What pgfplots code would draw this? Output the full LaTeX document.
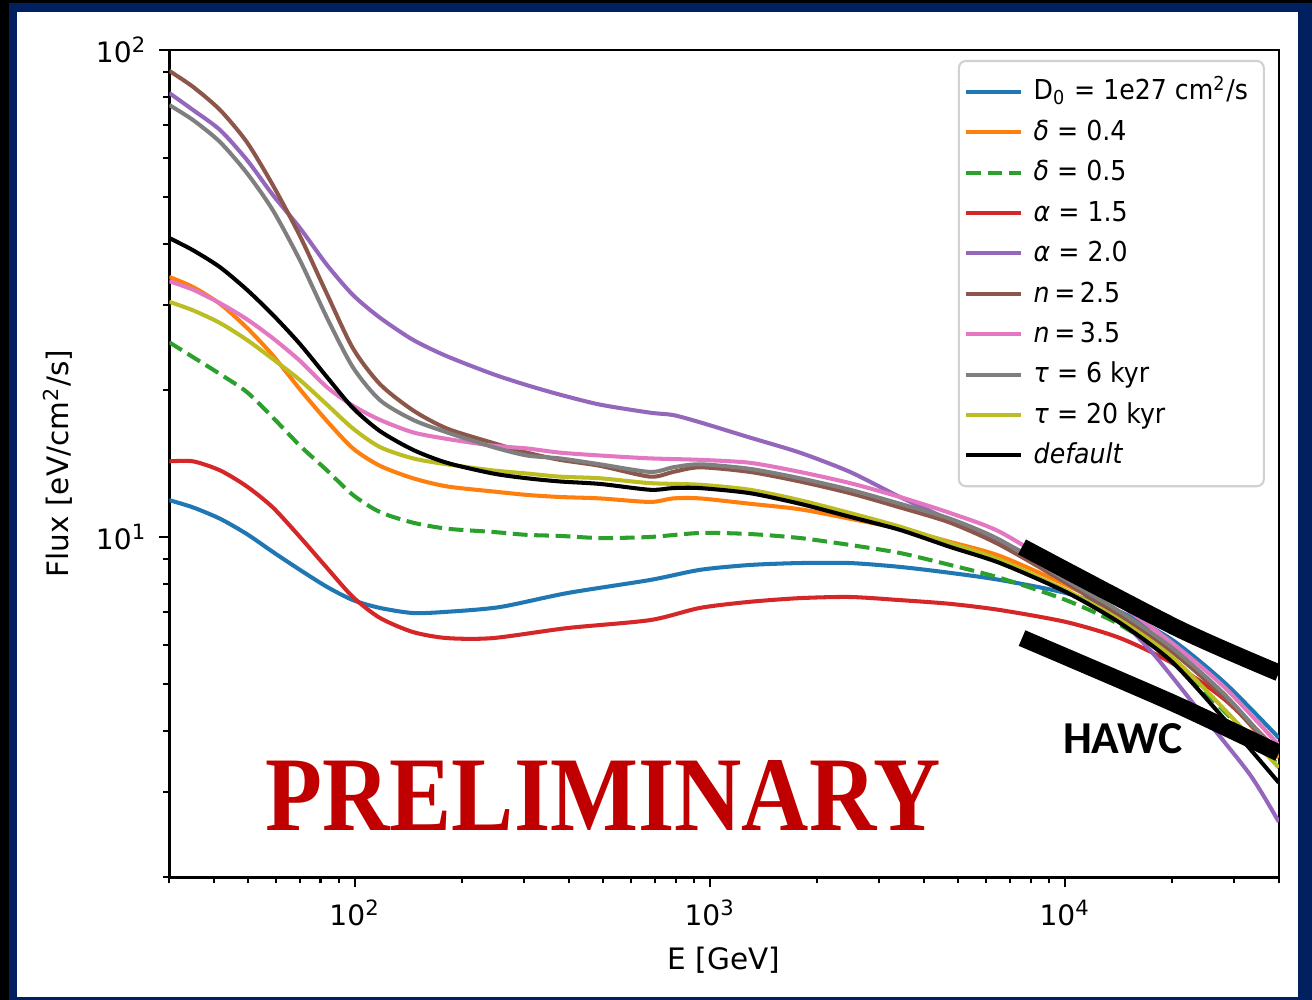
\documentclass[border=0pt]{standalone}
\usepackage{fontspec}
\setmainfont{DejaVu Sans}
\newfontfamily\legfont{DejaVu Sans}[FakeStretch=0.92]
\newfontfamily\prelimfont{Liberation Serif}
\newfontfamily\hawcfont{Carlito}
\usepackage{graphicx}
\usepackage{pgfplots}
\pgfplotsset{compat=1.18}

\definecolor{navyframe}{HTML}{002060}
\definecolor{prelimred}{HTML}{C00000}
\definecolor{tabblue}{HTML}{1F77B4}
\definecolor{taborange}{HTML}{FF7F0E}
\definecolor{tabgreen}{HTML}{2CA02C}
\definecolor{tabred}{HTML}{D62728}
\definecolor{tabpurple}{HTML}{9467BD}
\definecolor{tabbrown}{HTML}{8C564B}
\definecolor{tabpink}{HTML}{E377C2}
\definecolor{tabgray}{HTML}{7F7F7F}
\definecolor{tabolive}{HTML}{BCBD22}

\begin{document}
\begin{tikzpicture}[x=1cm,y=1cm]
% frame
\fill[black] (0,0) rectangle (13.12,10);
\fill[navyframe] (0.09,0) rectangle (13.12,9.97);
\fill[white] (0.17,0.03) rectangle (12.98,9.88);

\begin{axis}[
  at={(1.693cm,1.226cm)}, anchor=south west,
  scale only axis, width=11.095cm, height=8.274cm,
  xmode=log, ymode=log,
  xmin=30, xmax=40000, ymin=2, ymax=100,
  xtick={100,1000,10000},
  xticklabels={10\textsuperscript{2},10\textsuperscript{3},10\textsuperscript{4}},
  minor xtick={30,40,50,60,70,80,90,200,300,400,500,600,700,800,900,2000,3000,4000,5000,6000,7000,8000,9000,20000,30000,40000},
  ytick={10,100},
  yticklabels={10\textsuperscript{1},10\textsuperscript{2}},
  minor ytick={2,3,4,5,6,7,8,9,20,30,40,50,60,70,80,90},
  tick pos=left, tick align=outside,
  major tick length=1mm, minor tick length=0.6mm,
  every tick/.style={black, line width=0.6pt},
  axis line style={line width=0.7pt},
  ticklabel style={font=\fontsize{8}{9}\selectfont},
  xlabel={E [GeV]}, ylabel={Flux [eV/cm\textsuperscript{2}/s]},
  label style={font=\fontsize{8.4}{10}\selectfont},
  xlabel style={at={(axis description cs:0.5,-0.0998)}, anchor=center},
  ylabel style={at={(axis description cs:-0.1005,0.5)}, anchor=center},
  no marks,
  every axis plot/.append style={line width=1.15pt, line join=round, smooth, tension=0.45},
  legend cell align=left,
  legend image code/.code={\draw[#1, smooth=false] (0mm,0mm) -- (5.5mm,0mm);},
  legend style={at={(0.9875,0.988)}, anchor=north east,
    draw=black!18, line width=0.6pt, rounded corners=2pt, fill=white,
    font=\legfont\fontsize{7.8}{9}\selectfont, inner xsep=1.5pt, inner ysep=3pt,
    nodes={inner xsep=3pt, inner ysep=1.1pt, text height=7pt, text depth=2.3pt}},
]
% D0 = 1e27
\addplot[tabblue] coordinates {(30,11.9) (35,11.5) (41.7,10.9) (49.6,10.14) (58.7,9.32) (70,8.56) (83.4,7.90) (98.7,7.42) (117.6,7.15) (145.7,6.98) (181.6,7.02) (256,7.18) (396,7.67) (678,8.16) (937,8.56) (1296,8.76) (1792,8.84) (2480,8.84) (3429,8.68) (4745,8.44) (6560,8.16) (10065,7.67) (14290,7.02) (20020,6.15) (28230,5.01) (40000,3.87)};
\addlegendentry{D\textsubscript{0} = 1e27 cm\textsuperscript{2}/s}
% delta = 0.4
\addplot[taborange] coordinates {(30,34.2) (35,32.6) (41.7,30.1) (49.6,26.9) (58.7,23.6) (70,20.1) (83.4,17.3) (98.7,15.2) (117.6,14.0) (145.7,13.2) (181.6,12.7) (244.7,12.4) (305,12.2) (378,12.08) (490,12.0) (678,11.8) (787,12.0) (937,12.0) (1296,11.7) (1792,11.4) (2480,10.9) (3429,10.4) (4745,9.77) (6560,9.14) (10065,7.97) (14290,6.98) (20020,5.92) (28230,4.69) (40000,3.52)};
\addlegendentry{\textit{δ} = 0.4}
% delta = 0.5
\addplot[tabgreen, dash pattern=on 4.2pt off 1.9pt] coordinates {(30,25.1) (35,23.4) (41.7,21.6) (49.6,19.85) (58.7,17.6) (70,15.4) (83.4,13.7) (98.7,12.2) (117.6,11.25) (145.7,10.7) (181.6,10.4) (244.7,10.24) (305,10.1) (378,10.05) (490,9.95) (678,10.0) (937,10.19) (1296,10.14) (1792,9.95) (2480,9.63) (3429,9.27) (4745,8.76) (6560,8.24) (10065,7.42) (14290,6.60) (20020,5.59) (28230,4.37) (40000,3.40)};
\addlegendentry{\textit{δ} = 0.5}
% alpha = 1.5
\addplot[tabred] coordinates {(30,14.3) (35,14.3) (41.7,13.7) (49.6,12.7) (58.7,11.5) (70,10.0) (83.4,8.64) (98.7,7.53) (117.6,6.82) (145.7,6.38) (181.6,6.20) (244.7,6.20) (396,6.50) (678,6.75) (937,7.15) (1296,7.36) (1792,7.49) (2480,7.53) (3429,7.42) (4745,7.29) (6560,7.08) (10065,6.69) (14290,6.20) (20020,5.51) (28230,4.63) (40000,3.62)};
\addlegendentry{\textit{α} = 1.5}
% alpha = 2.0
\addplot[tabpurple] coordinates {(30,81.6) (35,75.3) (41.7,68.5) (49.6,59.5) (58.7,50.4) (70,43.1) (83.4,36.2) (98.7,31.4) (117.6,28.2) (145.7,25.4) (181.6,23.5) (244.7,21.6) (305,20.5) (378,19.6) (490,18.7) (678,18.0) (787,17.8) (937,17.2) (1296,16.0) (1792,14.9) (2480,13.6) (3429,12.08) (4745,10.84) (6560,9.81) (9073,8.68) (12550,7.42) (17350,5.86) (24010,4.37) (33200,3.25) (40000,2.60)};
\addlegendentry{\textit{α} = 2.0}
% n = 2.5
\addplot[tabbrown] coordinates {(30,90.6) (35,84.0) (41.7,75.3) (49.6,64.7) (58.7,52.8) (70,41.5) (83.4,31.55) (98.7,24.4) (117.6,20.6) (145.7,18.2) (181.6,16.7) (244.7,15.6) (305,14.9) (378,14.4) (490,14.0) (678,13.3) (787,13.6) (937,13.9) (1296,13.6) (1792,13.0) (2480,12.3) (3429,11.5) (4745,10.7) (6560,9.63) (10065,8.05) (14290,6.88) (20020,5.81) (28230,4.67) (40000,3.57)};
\addlegendentry{\textit{n}\,=\,2.5}
% n = 3.5
\addplot[tabpink] coordinates {(30,33.5) (35,32.2) (41.7,30.2) (49.6,28.0) (58.7,25.6) (70,23.0) (83.4,20.3) (98.7,18.6) (117.6,17.4) (145.7,16.4) (181.6,15.9) (244.7,15.4) (305,15.2) (378,14.9) (490,14.7) (678,14.5) (937,14.4) (1296,14.2) (1792,13.6) (2480,12.9) (3429,12.08) (4745,11.2) (6560,10.24) (10065,8.48) (14290,7.25) (20020,6.06) (28230,4.90) (40000,3.74)};
\addlegendentry{\textit{n}\,=\,3.5}
% tau = 6 kyr
\addplot[tabgray] coordinates {(30,77.1) (35,71.8) (41.7,64.7) (49.6,55.9) (58.7,46.9) (70,37.0) (83.4,28.2) (98.7,22.3) (117.6,19.1) (145.7,17.4) (181.6,16.4) (244.7,15.3) (305,14.7) (378,14.5) (490,14.1) (678,13.6) (787,13.9) (937,14.1) (1296,13.8) (1792,13.2) (2480,12.5) (3429,11.7) (4745,10.9) (6560,9.86) (10065,8.16) (14290,7.02) (20020,5.92) (28230,4.74) (40000,3.57)};
\addlegendentry{\textit{τ} = 6 kyr}
% tau = 20 kyr
\addplot[tabolive] coordinates {(30,30.4) (35,29.2) (41.7,27.5) (49.6,25.4) (58.7,23.2) (70,21.0) (83.4,18.7) (98.7,16.7) (117.6,15.3) (145.7,14.5) (181.6,14.1) (244.7,13.7) (305,13.5) (378,13.3) (490,13.2) (678,12.9) (937,12.8) (1296,12.5) (1792,11.9) (2480,11.2) (3429,10.5) (4745,9.72) (6560,8.97) (10065,7.78) (14290,6.75) (20020,5.67) (28230,4.41) (40000,3.36)};
\addlegendentry{\textit{τ} = 20 kyr}
% default
\addplot[black] coordinates {(30,41.1) (35,38.8) (41.7,35.8) (49.6,32.2) (58.7,28.6) (70,24.9) (83.4,21.3) (98.7,18.4) (117.6,16.5) (145.7,15.1) (181.6,14.2) (244.7,13.5) (305,13.2) (378,13.0) (490,12.85) (678,12.5) (787,12.6) (937,12.6) (1296,12.3) (1792,11.7) (2480,11.0) (3429,10.34) (4745,9.54) (6560,8.84) (10065,7.71) (14290,6.66) (20020,5.54) (28230,4.21) (40000,3.13)};
\addlegendentry{\textit{default}}
% HAWC bands
\addplot[black, line width=4.8pt, line cap=butt, smooth=false, forget plot] coordinates {(7568,9.54) (20680,6.50) (40000,5.26)};
\addplot[black, line width=4.8pt, line cap=butt, smooth=false, forget plot] coordinates {(7568,6.20) (20140,4.56) (40000,3.60)};
\end{axis}

\node[font=\hawcfont\bfseries\fontsize{13}{15}\selectfont] at (11.23,2.61) {HAWC};
\node[text=prelimred, inner sep=0pt] at (6.03,2.04) {\resizebox{6.75cm}{0.70cm}{\prelimfont\bfseries PRELIMINARY}};

\pgfresetboundingbox
\useasboundingbox (0,0) rectangle (13.12,10);
\end{tikzpicture}
\end{document}
